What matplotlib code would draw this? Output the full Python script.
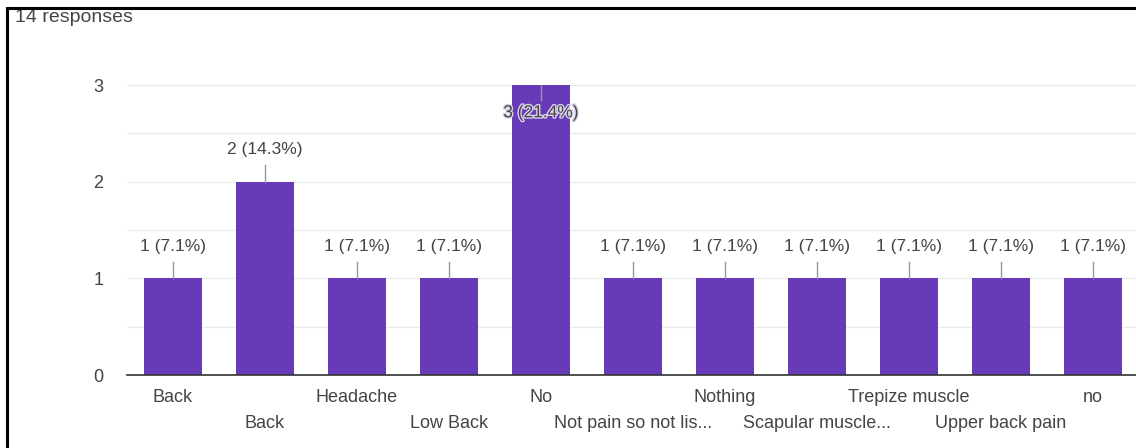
import matplotlib
matplotlib.use("Agg")
import matplotlib.pyplot as plt
import matplotlib.patheffects as pe
import numpy as np

plt.rcParams["font.family"] = ["Liberation Sans", "DejaVu Sans"]

categories = ["Back", "Back", "Headache", "Low Back", "No", "Not pain so not lis...",
              "Nothing", "Scapular muscle...", "Trepize muscle", "Upper back pain", "no"]
counts = [1, 2, 1, 1, 3, 1, 1, 1, 1, 1, 1]
total = 14

BAR = "#673ab7"; GRID = "#ebebeb"; TXT = "#444444"

fig = plt.figure(figsize=(11.36, 4.48), dpi=100)
ax = fig.add_axes([127 / 1136, 1 - 375 / 448, (1136 - 127) / 1136, (375 - 85) / 448])

x = np.arange(len(categories))
ax.bar(x, counts, width=0.62, color=BAR, zorder=3)
ax.set_xlim(-0.5, (1136 - 173) / 92)
ax.set_ylim(0, 3)
ax.set_yticks([0, 1, 2, 3])
ax.set_yticks([0.5, 1.5, 2.5], minor=True)
ax.grid(axis="y", which="both", color=GRID, lw=1, zorder=0)
for s in ["top", "right", "left"]:
    ax.spines[s].set_visible(False)
ax.spines["bottom"].set_color("#333333")
ax.spines["bottom"].set_linewidth(1.2)
ax.spines["bottom"].set_zorder(4)
ax.tick_params(axis="y", which="both", length=0, pad=17, labelsize=13, labelcolor=TXT)
ax.tick_params(axis="x", length=0, pad=0)
ax.set_xticks(x)
ax.set_xticklabels(["" for _ in categories])

# staggered category labels
for i, lab in enumerate(categories):
    dy = -16 if i % 2 == 0 else -35
    ax.annotate(lab, (i, 0), xytext=(0, dy), textcoords="offset points", ha="center",
                va="center", fontsize=13, color=TXT, annotation_clip=False)

ymax = max(counts)
for i, c in enumerate(counts):
    lab = f"{c} ({c / total * 100:.1f}%)"
    if c == ymax:
        ax.plot([i, i], [c, c - 0.16], color="#999999", lw=1, zorder=4)
        ax.annotate(lab, (i, c), xytext=(0, -20), textcoords="offset points", ha="center",
                    va="center", fontsize=12.5, color=TXT, zorder=5,
                    path_effects=[pe.withStroke(linewidth=2, foreground="#d8d0ea")])
    else:
        ax.plot([i, i], [c, c + 0.17], color="#999999", lw=1, zorder=4, clip_on=False)
        ax.annotate(lab, (i, c), xytext=(0, 23), textcoords="offset points", ha="center",
                    va="center", fontsize=12.5, color=TXT)

fig.text(15 / 1136, 1 - 17 / 448, "14 responses", fontsize=14, color=TXT, ha="left", va="center")

# screenshot frame
fig.add_artist(plt.Line2D([7 / 1136, 7 / 1136], [0, 1 - 7 / 448], color="black", lw=2.2,
                          transform=fig.transFigure))
fig.add_artist(plt.Rectangle((0, 1 - 7 / 448), 1, 7 / 448, color="white", transform=fig.transFigure, zorder=9))
fig.add_artist(plt.Line2D([7 / 1136, 1], [1 - 8 / 448, 1 - 8 / 448], color="black", lw=2.2,
                          transform=fig.transFigure, zorder=10))

fig.savefig("out.png", dpi=100)
